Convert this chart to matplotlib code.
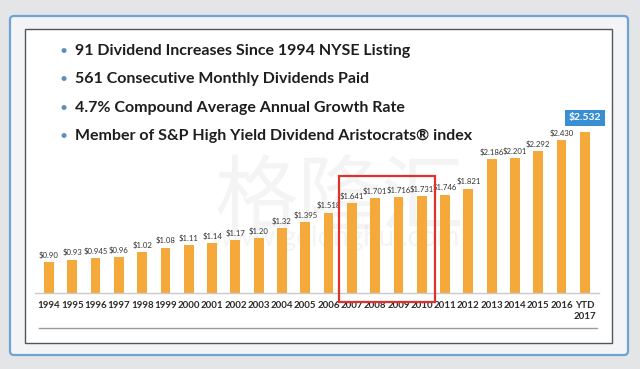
import matplotlib.pyplot as plt
from matplotlib.patches import Rectangle, FancyBboxPatch

years = ['1994', '1995', '1996', '1997', '1998', '1999', '2000', '2001', '2002', '2003',
         '2004', '2005', '2006', '2007', '2008', '2009', '2010', '2011', '2012', '2013',
         '2014', '2015', '2016', 'YTD\n2017']
dividends = [0.90, 0.93, 0.945, 0.96, 1.02, 1.08, 1.11, 1.14, 1.17, 1.20,
             1.32, 1.395, 1.518, 1.641, 1.701, 1.716, 1.731, 1.746, 1.821, 2.186,
             2.201, 2.292, 2.430, 2.532]
value_labels = ['$0.90', '$0.93', '$0.945', '$0.96', '$1.02', '$1.08', '$1.11', '$1.14',
                '$1.17', '$1.20', '$1.32', '$1.395', '$1.518', '$1.641', '$1.701', '$1.716',
                '$1.731', '$1.746', '$1.821', '$2.186', '$2.201', '$2.292', '$2.430', '$2.532']
bullets = ['91 Dividend Increases Since 1994 NYSE Listing',
           '561 Consecutive Monthly Dividends Paid',
           '4.7% Compound Average Annual Growth Rate',
           'Member of S&P High Yield Dividend Aristocrats\u00ae index']
highlight = (13, 16)  # 2007..2010

plt.rcParams['font.family'] = ['Lato', 'DejaVu Sans']

fig = plt.figure(figsize=(6.4, 3.69), dpi=100)
fig.patch.set_facecolor('#e4e5e7')

# background frames drawn in pixel coordinates
bg = fig.add_axes([0, 0, 1, 1])
bg.set_xlim(0, 640)
bg.set_ylim(369, 0)
bg.axis('off')
bg.add_patch(FancyBboxPatch((10, 16), 618, 339, boxstyle='round,pad=0,rounding_size=4',
                            facecolor='#f3f4f6', edgecolor='#6fa3d6', linewidth=1.6))
bg.add_patch(Rectangle((25, 29), 587, 314, facecolor='white', edgecolor='#555555', linewidth=1.0))
bg.plot([39, 597], [328, 328], color='#9a9a9a', linewidth=1.0)

# faint watermark
bg.text(340, 200, '格隆汇', fontsize=60, color='#000000', alpha=0.045, ha='center', va='center',
        family=['Noto Sans CJK SC', 'DejaVu Sans'])
bg.text(335, 238, 'www.gelonghui.com', fontsize=20, color='#000000', alpha=0.045,
        ha='center', va='center')

for i, line in enumerate(bullets):
    y = 51 + i * 28.3
    bg.text(64, y, '\u2022', fontsize=10, color='#5b8fc0', ha='center', va='center')
    bg.text(75, y, line, fontsize=11.5, fontweight='bold', color='#1e1e1e', va='center')

ax = fig.add_axes([0.0547, 0.206, 0.881, 0.4837])
ax.patch.set_alpha(0)
x = range(len(years))
ax.bar(x, dividends, width=0.42, color='#f5a93b', zorder=2)
ax.set_xlim(-0.6, len(years) - 0.4)
ax.set_ylim(0.51, 2.75)
ax.set_yticks([])
for s in ['top', 'right', 'left']:
    ax.spines[s].set_visible(False)
ax.spines['bottom'].set_color('#c9c9c9')
ax.spines['bottom'].set_linewidth(1.0)
ax.set_xticks(list(x))
ax.set_xticklabels(years, fontsize=7, fontweight='bold', color='#2b2b2b', linespacing=1.3)
ax.tick_params(axis='x', length=0, pad=6)

for i, (v, lab) in enumerate(zip(dividends, value_labels)):
    if i == len(dividends) - 1:
        ax.text(i, v + 0.12, lab.replace('$', r'\$'), ha='center', va='bottom', fontsize=7.5,
                fontweight='bold', color='white',
                bbox=dict(boxstyle='square,pad=0.35', facecolor='#3a8fd2', edgecolor='none'))
    else:
        ax.text(i, v + 0.04, lab.replace('$', r'\$'), ha='center', va='bottom', fontsize=5.6,
                color='#333333')

ax.add_patch(Rectangle((highlight[0] - 0.55, 0.40), highlight[1] - highlight[0] + 1.1, 1.58,
                       fill=False, edgecolor='#e0312c', linewidth=1.6, clip_on=False, zorder=3))

fig.savefig('out.png', dpi=100, facecolor=fig.get_facecolor())
